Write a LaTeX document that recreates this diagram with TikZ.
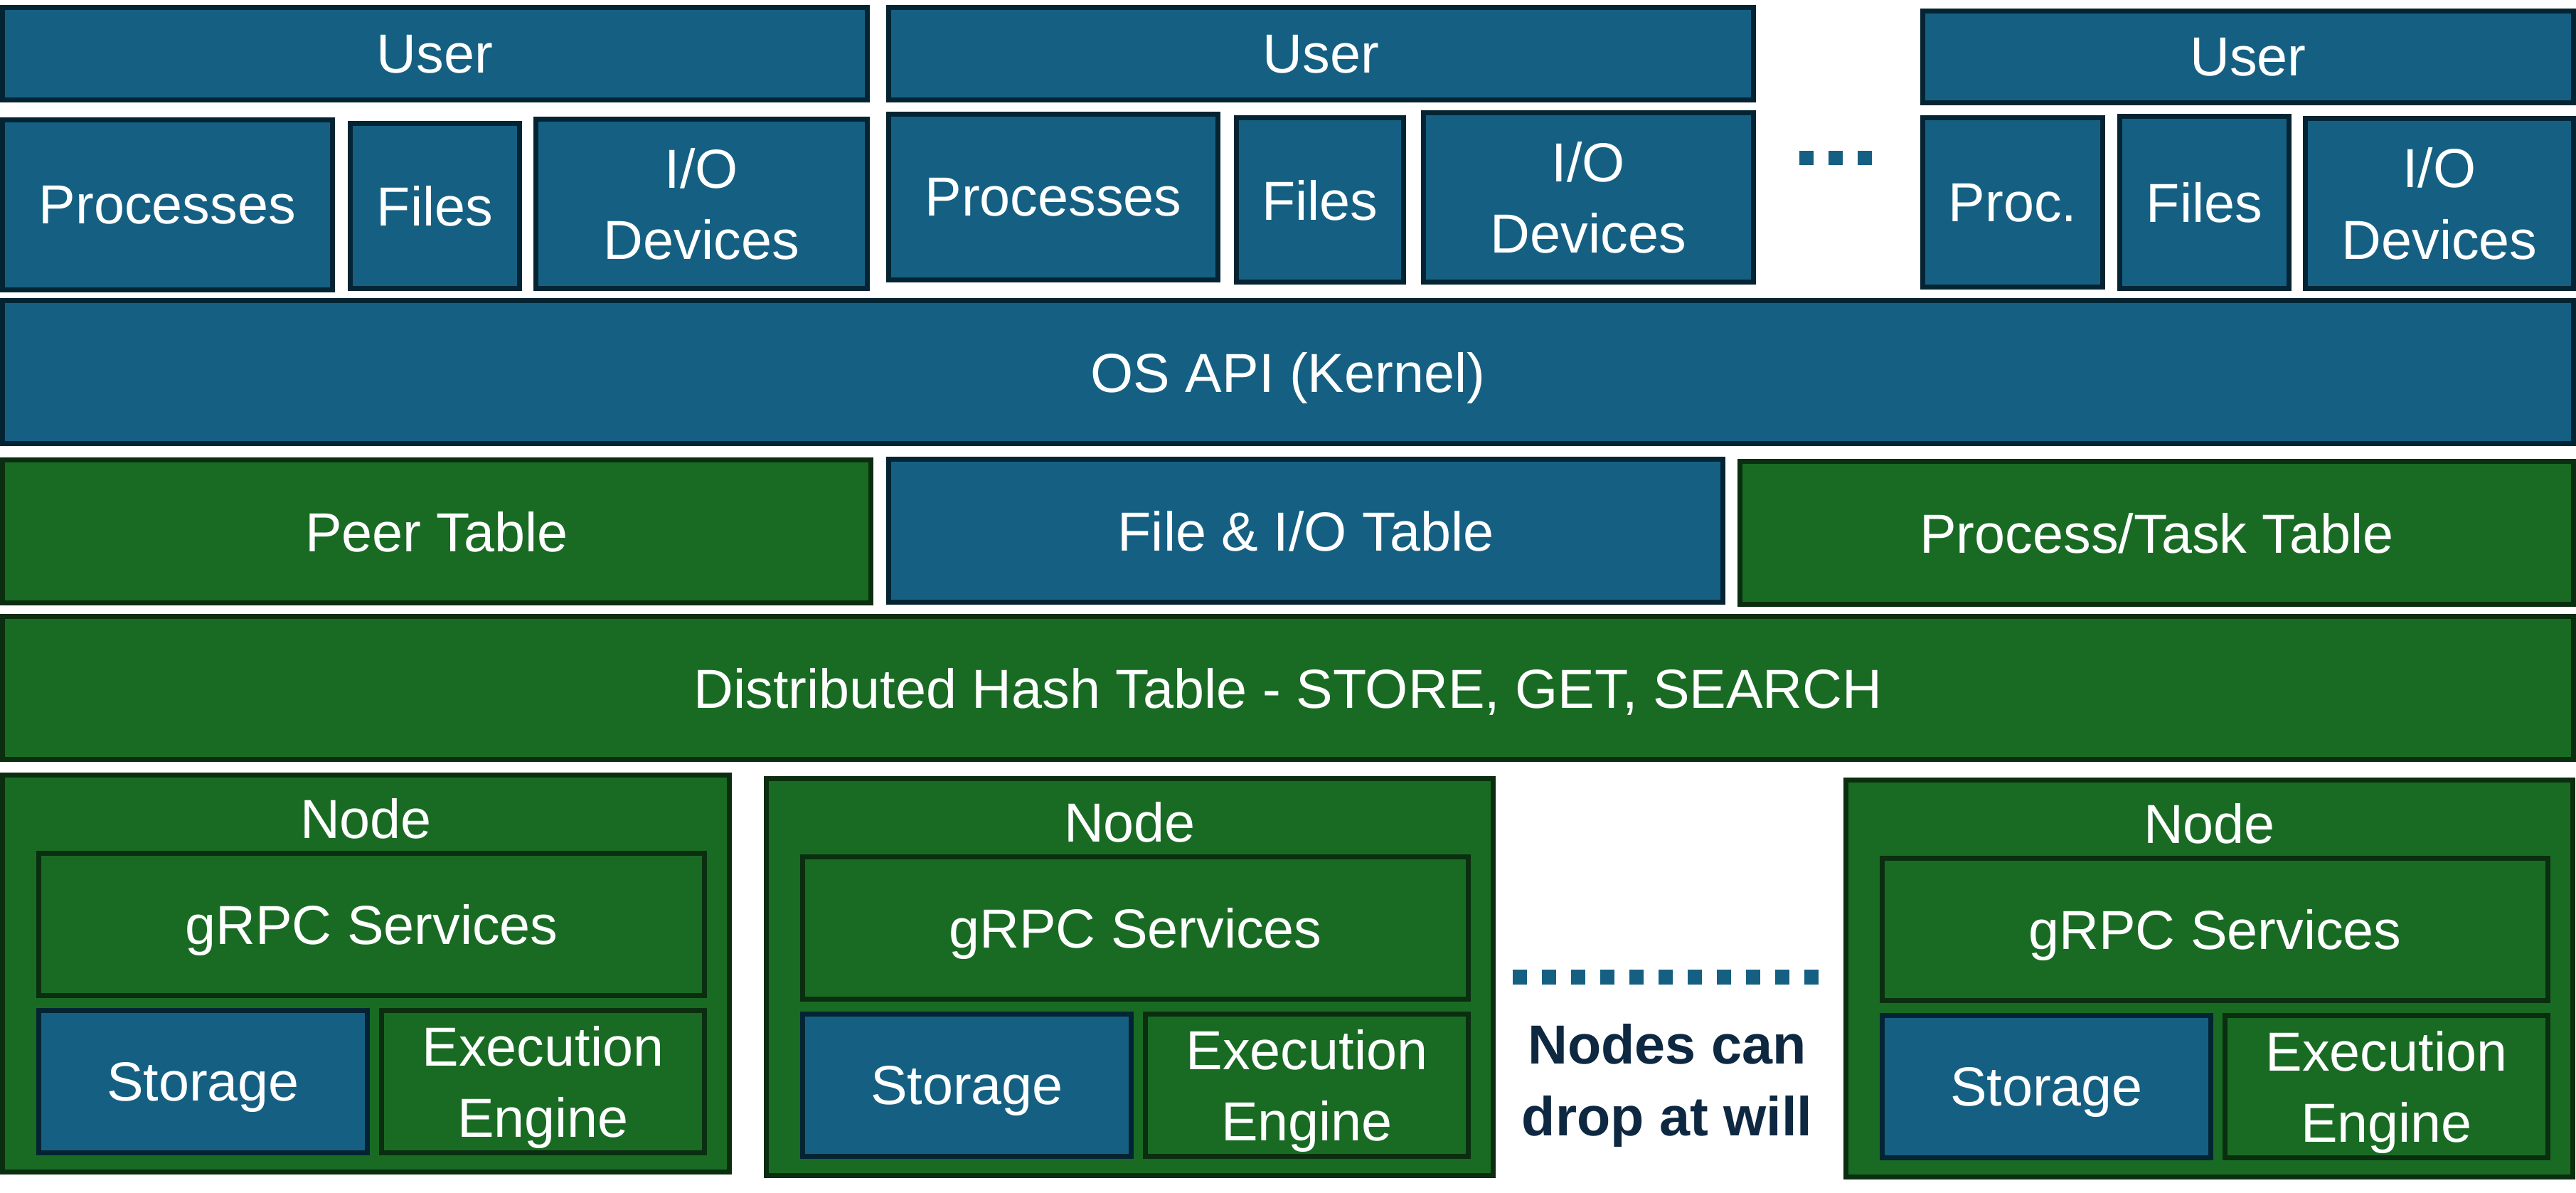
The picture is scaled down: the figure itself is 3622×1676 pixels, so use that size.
\documentclass[tikz,border=0pt]{standalone}
\usepackage{fontspec}
\setmainfont{Liberation Sans}
\usepackage{xcolor}
\usepackage{tikz}
\definecolor{osBlue}{HTML}{156082}
\definecolor{osBlueDark}{HTML}{042433}
\definecolor{dhtGreen}{HTML}{196B24}
\definecolor{dhtGreenDark}{HTML}{0A2E0F}
\definecolor{noteNavy}{HTML}{0E2841}
\newcommand{\boxFont}{\fontsize{22}{28.5}\selectfont}
\newcommand{\borderPx}{7}
\newcommand{\nodeWidth}{1029}
\newcommand{\nodeHeight}{565}
% name/left/top/right/bottom/text, in pixels of the picture
\newcommand{\blueBoxes}{user1/0/7/1223/144/User, user2/1246/7/2469/144/User, user3/2700/12/3622/148/User,
	proc1/0/165/471/411/Processes, files1/489/170/734/409/Files, io1/750/164/1223/409/{I/O\\Devices},
	proc2/1246/157/1716/397/Processes, files2/1735/162/1977/400/Files, io2/1998/155/2469/400/{I/O\\Devices},
	proc3/2700/162/2960/407/Proc., files3/2977/160/3222/409/Files, io3/3238/163/3622/409/{I/O\\Devices},
	osapi/0/419/3622/627/{OS API (Kernel)}, fileio/1246/642/2426/850/{File \& I/O Table}}
\newcommand{\greenBoxes}{peer/0/643/1228/851/Peer Table, ptask/2443/645/3622/853/{Process/Task Table},
	dht/0/863/3622/1071/{Distributed Hash Table - STORE, GET, SEARCH}}
\newcommand{\dhtNodes}{1/0/1086, 2/1074/1091, 3/2592/1093}

\begin{document}
\begin{tikzpicture}[x=0.01cm, y=-0.01cm,
		layer/.style={draw, line width=2pt, text=white, font=\boxFont, align=center, inner sep=0pt, text depth=0pt},
		blueLayer/.style={layer, fill=osBlue, draw=osBlueDark},
		greenLayer/.style={layer, fill=dhtGreen, draw=dhtGreenDark},
		dotRow/.style={draw=osBlue, line width=#1, dash pattern=on 0.2cm off 0.21cm}]
	\useasboundingbox (0,0) rectangle (3622,1676);
	
	\foreach \boxName/\xa/\ya/\xb/\yb/\boxText in \blueBoxes
	{
		\node[blueLayer, minimum width={(\xb-\xa-\borderPx)*0.01cm}, minimum height={(\yb-\ya-\borderPx)*0.01cm}] (\boxName) at ({(\xa+\xb)/2},{(\ya+\yb)/2}) {\boxText};
	}
	\foreach \boxName/\xa/\ya/\xb/\yb/\boxText in \greenBoxes
	{
		\node[greenLayer, minimum width={(\xb-\xa-\borderPx)*0.01cm}, minimum height={(\yb-\ya-\borderPx)*0.01cm}] (\boxName) at ({(\xa+\xb)/2},{(\ya+\yb)/2}) {\boxText};
	}
	
	\foreach \nodeIdx/\nodeX/\nodeY in \dhtNodes
	{
		\begin{scope}[shift={(\nodeX,\nodeY)}]
			\node[greenLayer, minimum width={(\nodeWidth-\borderPx)*0.01cm}, minimum height={(\nodeHeight-\borderPx)*0.01cm}] (node\nodeIdx) at (\nodeWidth/2,\nodeHeight/2) {};
			\node[font=\boxFont, text=white, inner sep=0pt, text depth=0pt] (nodeLabel\nodeIdx) at (\nodeWidth/2,64) {Node};
			\node[greenLayer, minimum width={(943-\borderPx)*0.01cm}, minimum height={(207-\borderPx)*0.01cm}] (grpc\nodeIdx) at (522.5,213.5) {gRPC Services};
			\node[blueLayer, minimum width={(469-\borderPx)*0.01cm}, minimum height={(207-\borderPx)*0.01cm}] (storage\nodeIdx) at (285.5,434.5) {Storage};
			\node[greenLayer, minimum width={(461-\borderPx)*0.01cm}, minimum height={(207-\borderPx)*0.01cm}] (exec\nodeIdx) at (763.5,434.5) {Execution\\Engine};
		\end{scope}
	}
	
	\coordinate (moreUsersL) at (2530,222);
	\coordinate (moreUsersR) at (2632,222);
	\draw[dotRow=0.2cm] (moreUsersL) -- (moreUsersR);
	\coordinate (moreNodesL) at (2127,1373);
	\coordinate (moreNodesR) at (2562,1373);
	\draw[dotRow=0.21cm] (moreNodesL) -- (moreNodesR);
	
	\node[font=\boxFont\bfseries, text=noteNavy, align=center, inner sep=0pt, text depth=0pt] (dropNote) at (2344,1518) {Nodes can\\drop at will};
\end{tikzpicture}
\end{document}
